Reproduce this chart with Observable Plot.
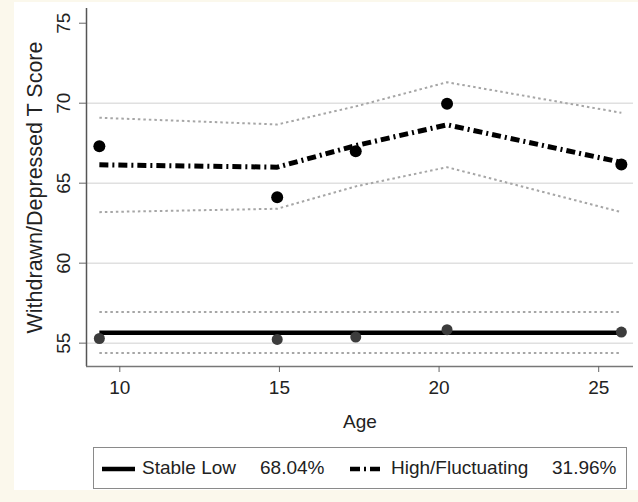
<!DOCTYPE html>
<html>
<head>
<meta charset="utf-8">
<script src="https://cdn.jsdelivr.net/npm/d3@7"></script>
<script src="https://cdn.jsdelivr.net/npm/@observablehq/plot@0.6"></script>
<style>
  html, body { margin: 0; padding: 0; background: #fbf8ec; }
  body { width: 638px; height: 502px; position: relative; overflow: hidden; font-family: "Liberation Sans", Arial, sans-serif; }
  #panel { position: absolute; left: 14px; top: 2px; width: 624px; height: 488px; background: #ffffff; }
  #chart { position: absolute; left: 0; top: 0; }
  #legend { position: absolute; left: 79px; top: 445px; width: 532px; height: 40px; border: 1.5px solid #8a8a8a; background: #fff; box-sizing: content-box; }
  #legend span { position: absolute; top: 9px; font-size: 19px; color: #222; white-space: nowrap; line-height: 22px; }
  #legend svg { position: absolute; top: 18px; }
</style>
</head>
<body>
<div id="panel">
  <div id="chart"></div>
  <div id="legend"></div>
</div>
<script>
// ---- data ----
const ages        = [9.36, 14.93, 17.39, 20.25, 25.71];
const stableObs   = [55.29, 55.23, 55.38, 55.84, 55.69];
const stableFit   = [55.65, 55.65, 55.65, 55.65, 55.65];
const stableUpper = [56.94, 56.94, 56.94, 56.94, 56.94];
const stableLower = [54.38, 54.38, 54.38, 54.38, 54.38];
const highObs     = [67.31, 64.12, 67.00, 69.96, 66.17];
const highFit     = [66.15, 66.00, 67.35, 68.65, 66.30];
const highUpper   = [69.09, 68.67, 69.80, 71.31, 69.40];
const highLower   = [63.19, 63.40, 64.80, 66.00, 63.19];

const xTicks = [10, 15, 20, 25];
const yTicks = [55, 60, 65, 70, 75];
const yGrid  = [55, 60, 65, 70];
const xDomain = [8.957, 26.09];
const yDomain = [53.54, 75.92];

const legendItems = [
  {label: "Stable Low", pct: "68.04%"},
  {label: "High/Fluctuating", pct: "31.96%"}
];
const xLabel = "Age";
const yLabel = "Withdrawn/Depressed T Score";

// ---- tables ----
const rows = (ys) => ages.map((a, i) => ({age: a, v: ys[i]}));

const font = "Liberation Sans, Arial, sans-serif";
const ci = {x: "age", y: "v", stroke: "#a6a6a6", strokeWidth: 2, strokeDasharray: "2.5,3", strokeLinecap: "butt", strokeLinejoin: "miter"};
const chart = Plot.plot({
  width: 624,
  height: 440,
  marginLeft: 72,
  marginRight: 5,
  marginTop: 6,
  marginBottom: 76,
  x: {domain: xDomain},
  y: {domain: yDomain},
  style: {fontFamily: font, fontSize: "19px", background: "white", color: "#222"},
  marks: [
    Plot.gridY(yGrid, {stroke: "#e0e0e0", strokeOpacity: 1, strokeWidth: 1.5}),
    Plot.ruleX([xDomain[0]], {stroke: "#555", strokeWidth: 1.5}),
    Plot.ruleY([yDomain[0]], {stroke: "#777", strokeWidth: 1.5}),
    Plot.axisX({ticks: xTicks, tickSize: 6, tickPadding: 8, label: null, fontSize: 19, stroke: "#666", fill: "#222"}),
    Plot.axisY({ticks: yTicks, tickSize: 7, tickRotate: -90, tickPadding: 10, label: null, fontSize: 19, stroke: "#666", fill: "#222"}),
    Plot.text([xLabel], {frameAnchor: "bottom", dy: 55.7, lineAnchor: "middle", fontSize: 19, fill: "#222"}),
    Plot.text([yLabel], {frameAnchor: "left", rotate: -90, dx: -51, textAnchor: "middle", lineAnchor: "middle", fontSize: 21.5, fill: "#222"}),
    // confidence bands (dotted)
    Plot.line(rows(stableUpper), ci),
    Plot.line(rows(stableLower), ci),
    Plot.line(rows(highUpper), ci),
    Plot.line(rows(highLower), ci),
    // fitted lines
    Plot.line(rows(stableFit), {x: "age", y: "v", stroke: "#000", strokeWidth: 4.5, strokeLinecap: "butt"}),
    Plot.line(rows(highFit), {x: "age", y: "v", stroke: "#000", strokeWidth: 5, strokeDasharray: "9,4,2,4", strokeLinecap: "butt", strokeLinejoin: "miter"}),
    // observed means
    Plot.dot(rows(stableObs), {x: "age", y: "v", r: 5.5, fill: "#3c3c3c", stroke: "none"}),
    Plot.dot(rows(highObs), {x: "age", y: "v", r: 6, fill: "#000", stroke: "none"})
  ]
});
document.getElementById("chart").appendChild(chart);

// ---- legend (below the svg) ----
const legend = document.getElementById("legend");
const samples = [
  {x: 8, w: 33, dash: null},
  {x: 256, w: 34, dash: "10,4,2,4"}
];
const textPos = [[48, 166], [297, 458]];
legendItems.forEach((d, i) => {
  const s = samples[i];
  const svg = d3.create("svg").attr("width", s.w).attr("height", 6)
    .style("left", s.x + "px");
  svg.append("line").attr("x1", 0).attr("x2", s.w).attr("y1", 3).attr("y2", 3)
    .attr("stroke", "#000").attr("stroke-width", 4.5)
    .attr("stroke-dasharray", s.dash);
  legend.appendChild(svg.node());
  const t1 = document.createElement("span");
  t1.textContent = d.label; t1.style.left = textPos[i][0] + "px";
  legend.appendChild(t1);
  const t2 = document.createElement("span");
  t2.textContent = d.pct; t2.style.left = textPos[i][1] + "px";
  legend.appendChild(t2);
});
</script>
</body>
</html>
